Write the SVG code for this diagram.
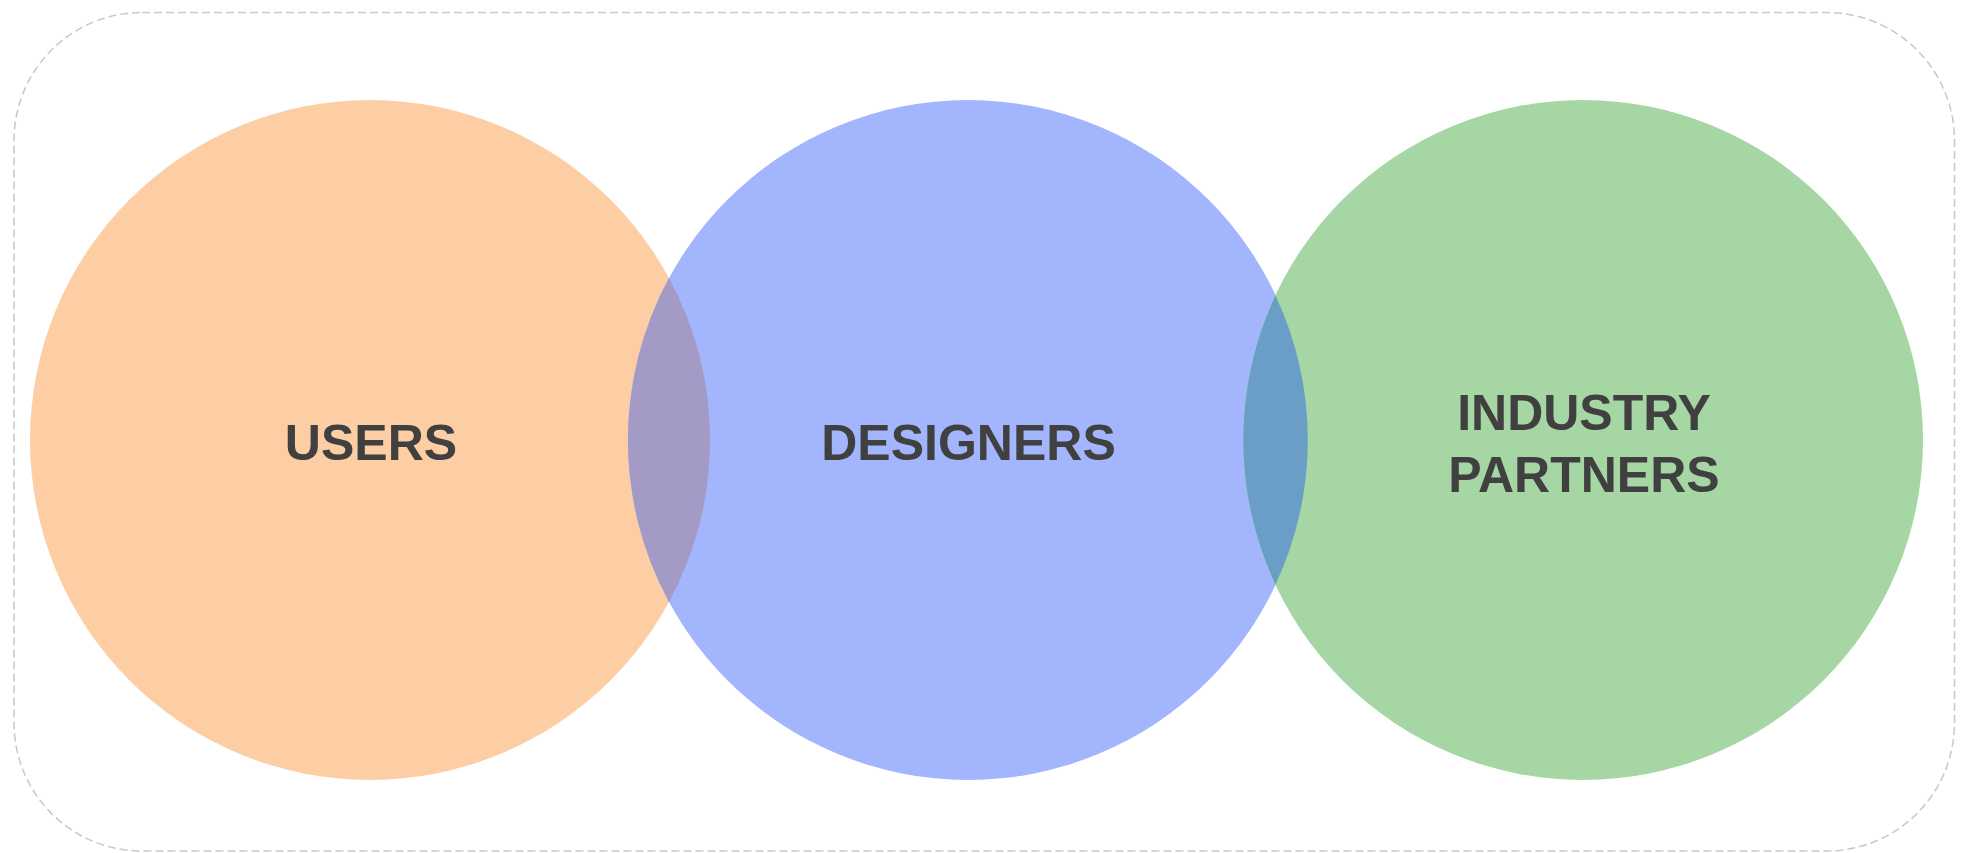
<svg xmlns="http://www.w3.org/2000/svg" width="1966" height="853" viewBox="0 0 1966 853">
<style>
.lbl{font-family:"Liberation Sans",Arial,sans-serif;font-weight:bold;font-size:50px;fill:#404040;text-anchor:middle}
.frame{fill:none;stroke:#c8c8c8;stroke-width:1.5;stroke-dasharray:8 4}
</style>
<rect class="frame" x="14" y="12.5" width="1940.5" height="838.5" rx="128" ry="128"/>
<g id="users">
<circle cx="370" cy="440" r="340" fill="#fdcea4"/>
</g>
<g id="designers">
<circle cx="968" cy="440" r="340" fill="#a3b5fd"/>
</g>
<g id="industry-partners">
<circle cx="1583" cy="440" r="340" fill="#a5d6a3"/>
</g>
<g id="overlaps">
<path d="M669,278.1 A340,340 0 0 1 669,601.9 A340,340 0 0 1 669,278.1 Z" fill="#a39ac5"/>
<path d="M1275.5,295.4 A340,340 0 0 1 1275.5,584.6 A340,340 0 0 1 1275.5,295.4 Z" fill="#6a9ec6"/>
</g>
<g id="labels">
<text class="lbl" x="371" y="460">USERS</text>
<text class="lbl" x="968.5" y="460">DESIGNERS</text>
<text class="lbl" x="1584" y="430">INDUSTRY</text>
<text class="lbl" x="1584" y="492">PARTNERS</text>
</g>
<g id="connectors"></g>
</svg>
